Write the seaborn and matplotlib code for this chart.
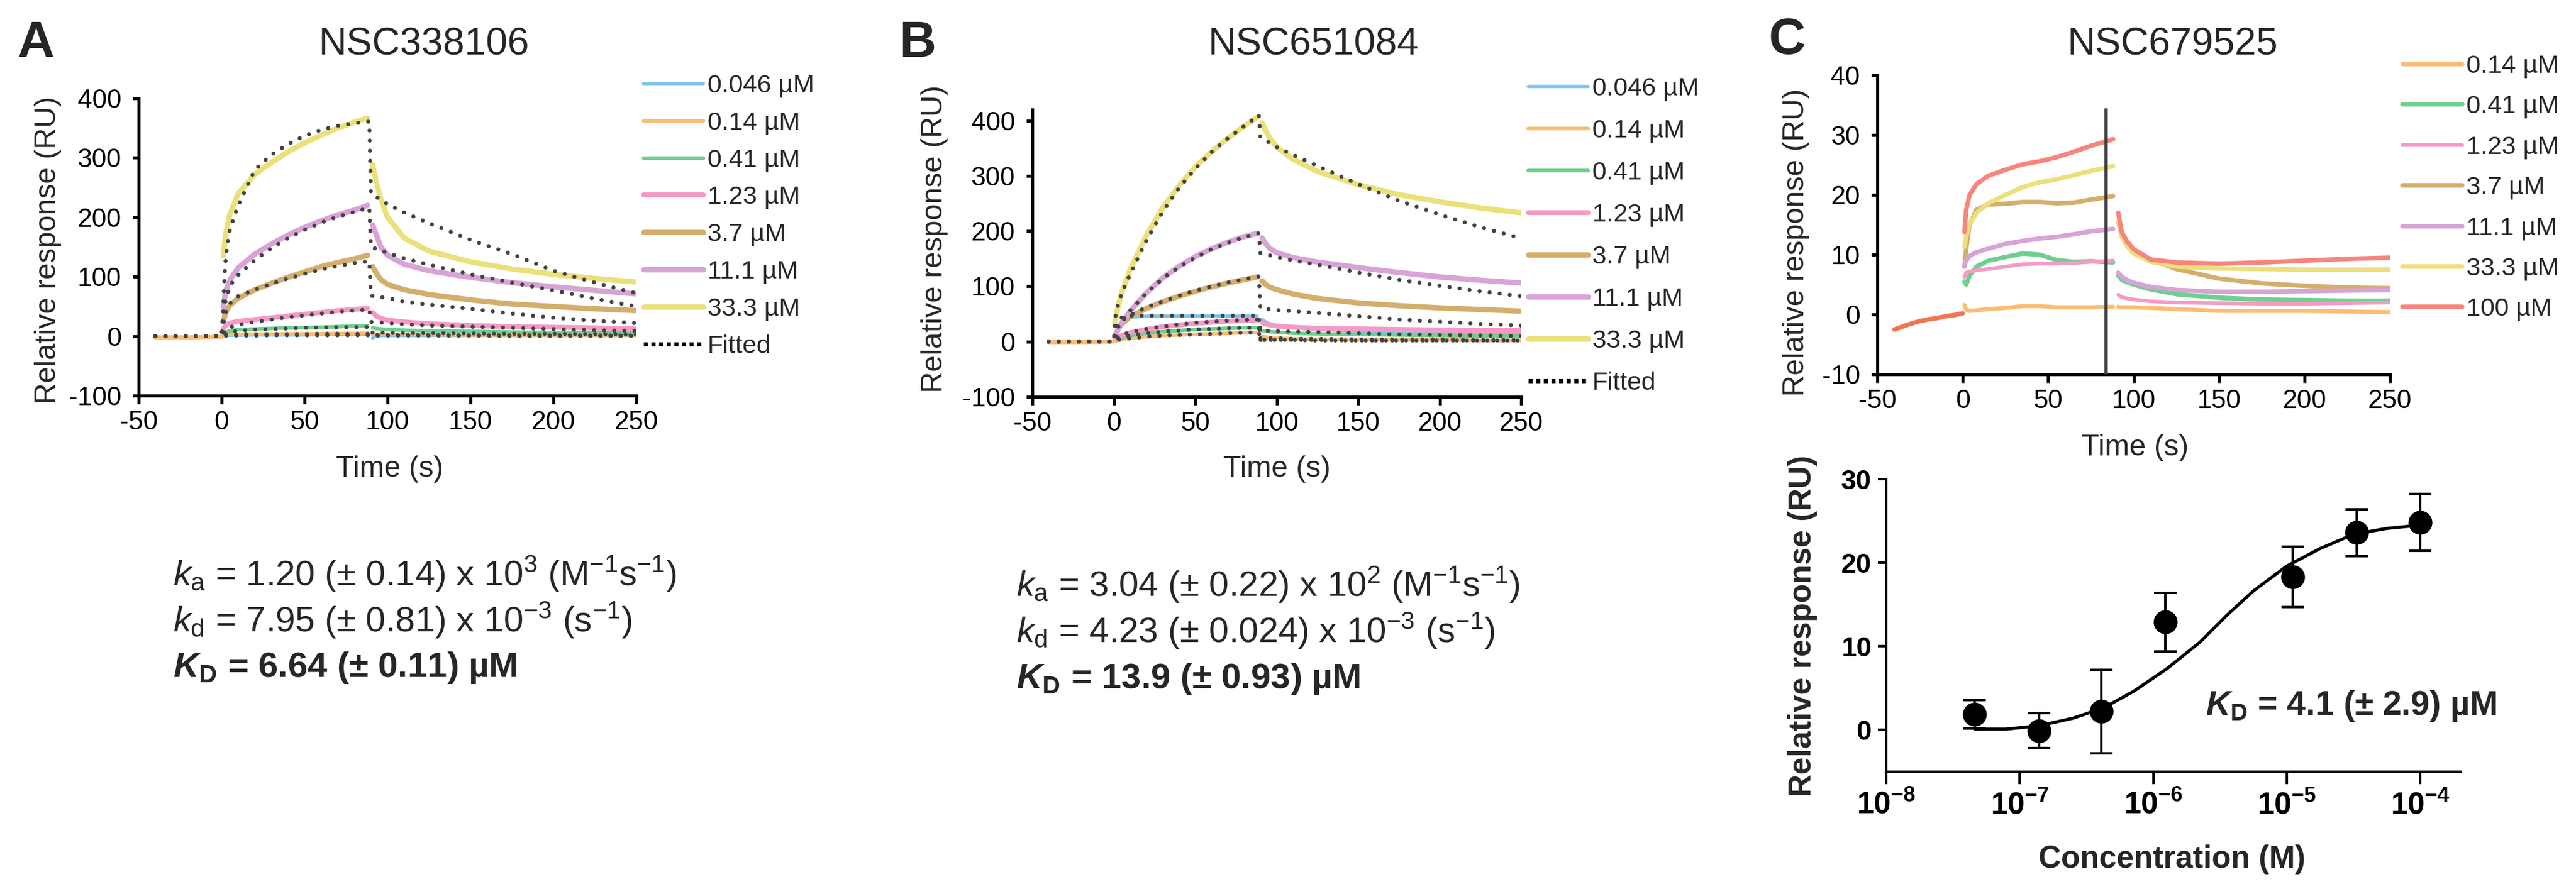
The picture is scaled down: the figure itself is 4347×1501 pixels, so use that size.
import pandas as pd
import matplotlib
matplotlib.use('Agg')
import matplotlib.pyplot as plt
from matplotlib.lines import Line2D
import seaborn as sns

# ---------------- data ----------------
conc_ab = ['0.046 µM', '0.14 µM', '0.41 µM', '1.23 µM', '3.7 µM', '11.1 µM', '33.3 µM']
conc_c = ['0.14 µM', '0.41 µM', '1.23 µM', '3.7 µM', '11.1 µM', '33.3 µM', '100 µM']

# Panel A (NSC338106) sensorgrams
a_t_base = [-40, -20, 0]
a_base = [-2, -2, -1]
a_t_on = [1, 2, 3, 5, 10, 20, 30, 40, 50, 60, 70, 80, 88]
a_on_0046 = [0.5, 1, 1, 1.5, 1.5, 2, 2, 2, 2, 2.5, 2.5, 2.5, 2.5]
a_on_014 = [1, 2, 2.5, 3, 3, 3.5, 3.5, 4, 4, 4, 4.5, 4.5, 5]
a_on_041 = [3, 5, 7, 9, 11, 12, 13, 14, 14.5, 15, 16, 17, 17]
a_on_123 = [12, 16, 19, 22, 25, 28, 31, 34, 37, 40, 43, 45, 47]
a_on_37 = [25, 35, 43, 52, 64, 78, 89, 99, 108, 117, 124, 130, 136]
a_on_111 = [50, 68, 80, 95, 115, 138, 155, 170, 183, 194, 204, 212, 220]
a_on_333 = [135, 160, 180, 205, 240, 272, 292, 310, 325, 338, 350, 360, 367]
a_t_off = [91, 93, 96, 100, 110, 125, 150, 175, 200, 225, 250]
a_off_0046 = [-3, 0, 1, 1, 1, 1, 1, 1, 1, 1, 1]
a_off_014 = [3, 3, 3, 3, 2.5, 2.5, 2, 2, 2, 2, 2]
a_off_041 = [14, 13, 12, 11, 10, 9, 8, 7, 6, 6, 5]
a_off_123 = [40, 34, 30, 27, 24, 21, 18, 16, 15, 14, 12]
a_off_37 = [117, 107, 95, 87, 78, 70, 61, 54, 50, 46, 43]
a_off_111 = [187, 172, 150, 136, 121, 110, 99, 90, 83, 77, 71]
a_off_333 = [288, 262, 230, 200, 165, 143, 125, 113, 104, 97, 91]
# Panel A fitted curves
fit_t = [-40, 0, 1, 2, 3, 5, 10, 20, 30, 40, 50, 60, 70, 80, 89, 90, 100, 110, 125, 150, 175, 200, 225, 250]
a_fit_0046 = [0, 0, 0.5, 0.5, 1, 1, 1, 1, 1.5, 1.5, 1.5, 1.5, 1.5, 1.5, 1.5, 1, 1, 1, 1, 1, 0.5, 0.5, 0.5, 0.5]
a_fit_014 = [0, 0, 1, 1.5, 2, 2.5, 3, 3, 3.5, 3.5, 3.5, 4, 4, 4, 4, 2, 2, 2, 2, 1.5, 1.5, 1.5, 1, 1]
a_fit_041 = [0, 0, 2, 4, 5, 7, 9, 11, 12, 13, 14, 14.5, 15, 15, 15.5, 6, 5.5, 5, 5, 4.5, 4, 4, 3.5, 3]
a_fit_123 = [0, 0, 5, 10, 12, 15, 19, 24, 28, 32, 35, 38, 41, 43, 45, 24, 22, 20, 18, 16, 14, 12, 10, 9]
a_fit_37 = [0, 0, 20, 35, 45, 55, 67, 78, 88, 97, 105, 112, 118, 123, 126, 68, 64, 58, 53, 46, 38, 31, 26, 22]
a_fit_111 = [0, 0, 40, 55, 65, 85, 103, 128, 148, 165, 179, 191, 201, 209, 216, 150, 140, 131, 120, 104, 90, 77, 63, 50]
a_fit_333 = [0, 0, 55, 115, 145, 180, 220, 280, 305, 323, 337, 347, 354, 358, 361, 240, 222, 208, 190, 162, 138, 110, 90, 72]

# Panel B (NSC651084) sensorgrams
b_t_base = [-40, -20, 0]
b_base = [-1, -1, 0]
b_t_on = [0.5, 2, 3, 5, 10, 20, 30, 40, 50, 60, 70, 80, 88]
b_on_0046 = [3, 15, 25, 35, 44, 46, 46, 46, 46, 46, 46, 46, 46]
b_on_014 = [1, 2, 3, 4, 6, 9, 11, 12, 13, 14, 15, 16, 17]
b_on_041 = [2, 4, 5, 7, 11, 15, 18, 20, 22, 23, 24, 25, 25]
b_on_123 = [3, 6, 8, 11, 16, 22, 27, 30, 33, 35, 37, 38, 39]
b_on_37 = [8, 18, 24, 32, 45, 60, 72, 82, 91, 99, 106, 112, 117]
b_on_111 = [8, 18, 25, 35, 55, 88, 115, 136, 154, 168, 180, 190, 196]
b_on_333 = [30, 55, 68, 90, 130, 192, 242, 282, 316, 344, 368, 390, 406]
b_t_off = [91, 93, 96, 100, 110, 125, 150, 175, 200, 225, 250]
b_off_0046 = [40, 36, 32, 29, 25, 22, 19, 17, 16, 15, 14]
b_off_014 = [9, 8, 7, 6, 5, 4, 4, 3, 3, 2, 2]
b_off_041 = [20, 19, 18, 17, 15, 14, 13, 12, 11, 10, 10]
b_off_123 = [35, 32, 30, 28, 26, 24, 23, 22, 21, 20, 20]
b_off_37 = [110, 104, 98, 94, 86, 78, 70, 65, 61, 58, 55]
b_off_111 = [188, 178, 168, 161, 152, 144, 134, 125, 117, 111, 106]
b_off_333 = [396, 383, 367, 352, 330, 308, 284, 266, 253, 242, 233]
# Panel B fitted curves
b_fit_0046 = [0, 0, 20, 30, 38, 44, 47, 47, 47, 47, 47, 47, 47, 47, 47, 3, 3, 3, 3, 2, 2, 2, 2, 2]
b_fit_014 = [0, 0, 1, 2, 3, 4, 6, 9, 11, 12, 13, 14, 15, 16, 17, 3, 3, 3, 2, 2, 2, 2, 2, 2]
b_fit_041 = [0, 0, 3, 5, 6, 8, 11, 15, 18, 20, 22, 23, 24, 25, 25, 6, 6, 5, 5, 4, 4, 4, 3, 3]
b_fit_123 = [0, 0, 5, 8, 10, 12, 17, 23, 27, 31, 34, 36, 38, 39, 40, 20, 19, 18, 17, 15, 13, 12, 11, 10]
b_fit_37 = [0, 0, 20, 28, 32, 38, 48, 62, 73, 83, 92, 100, 107, 113, 118, 60, 57, 55, 52, 46, 40, 36, 32, 29]
b_fit_111 = [0, 0, 15, 22, 28, 37, 56, 88, 114, 135, 152, 167, 179, 189, 196, 160, 153, 147, 139, 125, 112, 101, 91, 82]
b_fit_333 = [0, 0, 45, 60, 70, 88, 122, 183, 235, 278, 313, 343, 368, 390, 410, 370, 352, 338, 318, 285, 255, 230, 207, 187]

# Panel C (NSC679525) sensorgrams
c_t_base = [-40, -35, -30, -25, -20, -15, -10, -5, 0]
c_base = [-2.5, -2.0, -1.5, -1.1, -0.8, -0.6, -0.3, -0.1, 0.2]
c_t_on = [1, 2, 4, 8, 15, 25, 35, 45, 55, 65, 75, 88]
c_on_014 = [1.6, 0.8, 0.6, 0.7, 0.9, 1.1, 1.4, 1.4, 1.2, 1.2, 1.2, 1.3]
c_on_041 = [5.5, 5.0, 6.5, 8.0, 9.0, 9.6, 10.2, 10.0, 9.1, 8.8, 8.9, 8.7]
c_on_123 = [6.3, 7.0, 7.2, 7.4, 7.6, 8.0, 8.4, 8.5, 8.5, 8.6, 8.8, 9.0]
c_on_37 = [8.0, 11.0, 15.0, 17.5, 18.4, 18.5, 18.8, 18.8, 18.6, 18.7, 19.2, 19.8]
c_on_111 = [8.2, 9.0, 9.8, 10.4, 11.0, 11.8, 12.3, 12.7, 13.0, 13.4, 13.9, 14.3]
c_on_333 = [11.3, 13.0, 15.0, 17.0, 18.6, 20.0, 21.3, 22.1, 22.6, 23.3, 24.0, 24.8]
c_on_100 = [13.8, 17.5, 20.0, 21.8, 23.2, 24.2, 25.1, 25.6, 26.3, 27.2, 28.2, 29.3]
c_t_off = [91, 93, 96, 100, 110, 125, 150, 175, 200, 225, 250]
c_off_014 = [1.3, 1.2, 1.2, 1.2, 1.1, 0.9, 0.6, 0.6, 0.6, 0.5, 0.4]
c_off_041 = [6.5, 5.8, 5.4, 5.0, 4.2, 3.4, 2.8, 2.5, 2.4, 2.3, 2.3]
c_off_123 = [3.3, 2.9, 2.7, 2.5, 2.2, 2.0, 1.9, 1.8, 1.8, 1.9, 2.0]
c_off_37 = [15.5, 13.5, 12.0, 10.8, 9.2, 7.6, 6.0, 5.2, 4.8, 4.5, 4.4]
c_off_111 = [7.0, 6.3, 5.8, 5.3, 4.6, 4.1, 3.8, 3.8, 3.9, 4.0, 4.1]
c_off_333 = [15.5, 13.0, 11.5, 10.2, 8.8, 8.0, 7.7, 7.6, 7.5, 7.5, 7.5]
c_off_100 = [17.0, 13.8, 12.3, 10.9, 9.2, 8.7, 8.5, 8.7, 9.0, 9.3, 9.5]
c_inject_end = 84
c_inject_top = 34.5

# Panel C steady-state affinity
ss_conc = [4.6e-8, 1.4e-7, 4.1e-7, 1.23e-6, 1.11e-5, 3.33e-5, 1.0e-4]
ss_resp = [1.9, -0.1, 2.2, 12.9, 18.3, 23.6, 24.8]
ss_err = [1.7, 2.1, 5.0, 3.5, 3.6, 2.8, 3.4]
ss_fit_conc = [4.6e-8, 7.9e-8, 1.4e-7, 2.5e-7, 4.2e-7, 7.1e-7, 1.26e-6, 2.24e-6,
               3.55e-6, 5.6e-6, 1.0e-5, 1.78e-5, 3.16e-5, 5.6e-5, 1.0e-4]
ss_fit_resp = [0.1, 0.1, 0.5, 1.4, 2.6, 4.6, 7.3, 10.5, 13.7, 16.6, 19.6, 21.7, 23.4, 24.1, 24.5]
ss_xticks = [1e-8, 1e-7, 1e-6, 1e-5, 1e-4]
ss_xticklabels = [r'$\mathbf{10^{-8}}$', r'$\mathbf{10^{-7}}$', r'$\mathbf{10^{-6}}$',
                  r'$\mathbf{10^{-5}}$', r'$\mathbf{10^{-4}}$']

colors = {'0.046 µM': '#7cc4ec', '0.14 µM': '#fbbd74', '0.41 µM': '#6fcf8f',
          '1.23 µM': '#f59ac6', '3.7 µM': '#d3ae6d', '11.1 µM': '#d8a3d6',
          '33.3 µM': '#ebe07a', '100 µM': '#f7857c'}
widths_ab = {'0.046 µM': 4.0, '0.14 µM': 4.5, '0.41 µM': 4.5, '1.23 µM': 6.0,
             '3.7 µM': 6.5, '11.1 µM': 6.5, '33.3 µM': 6.5}
widths_c = {'0.14 µM': 5.0, '0.41 µM': 5.5, '1.23 µM': 4.5, '3.7 µM': 5.5,
            '11.1 µM': 5.5, '33.3 µM': 5.5, '100 µM': 5.5}

# ---------------- style ----------------
sns.set_style('ticks')
plt.rcParams['font.family'] = ['Liberation Sans', 'DejaVu Sans']
plt.rcParams['mathtext.fontset'] = 'custom'
plt.rcParams['mathtext.rm'] = 'Liberation Sans'
plt.rcParams['mathtext.it'] = 'Liberation Sans:italic'
plt.rcParams['mathtext.bf'] = 'Liberation Sans:bold'
plt.rcParams['mathtext.bfit'] = 'Liberation Sans:italic:bold'
plt.rcParams['axes.unicode_minus'] = False
plt.rcParams['axes.edgecolor'] = 'black'
plt.rcParams['xtick.color'] = 'black'
plt.rcParams['ytick.color'] = 'black'

W, H = 4347, 1501
fig = plt.figure(figsize=(W / 100, H / 100), dpi=100)


def px_axes(x0, y0, x1, y1):
    return fig.add_axes([x0 / W, 1 - y1 / H, (x1 - x0) / W, (y1 - y0) / H])


def trace_frame(conc, t_on, on, t_off, off):
    parts = []
    for c, v_on, v_off in zip(conc, on, off):
        parts.append(pd.DataFrame({'t': t_on, 'ru': v_on, 'conc': c, 'seg': c + ' on'}))
        parts.append(pd.DataFrame({'t': t_off, 'ru': v_off, 'conc': c, 'seg': c + ' off'}))
    return pd.concat(parts, ignore_index=True)


def fit_frame(conc, fits):
    return pd.concat([pd.DataFrame({'t': fit_t, 'ru': f, 'conc': c}) for c, f in zip(conc, fits)],
                     ignore_index=True)


def style_sensor(ax, ylim, yticks):
    ax.set_xlim(-50, 250)
    ax.set_ylim(*ylim)
    ax.set_xticks(range(-50, 251, 50))
    ax.set_yticks(yticks)
    sns.despine(ax=ax)
    for s in ['left', 'bottom']:
        ax.spines[s].set_linewidth(3.8)
    ax.tick_params(axis='x', direction='out', length=10, width=3.8, labelsize=32, pad=8)
    ax.tick_params(axis='y', direction='out', length=7, width=3.8, labelsize=32, pad=14)


fit_style = dict(color='#444444', lw=5.0, linestyle=(0, (0.01, 2.45)), dash_capstyle='round',
                 zorder=5)


def sensor_panel(ax, conc, widths, df, base_t, base, fdf):
    sns.lineplot(data=df, x='t', y='ru', hue='conc', hue_order=conc, palette=colors,
                 size='conc', size_order=conc, sizes=widths, units='seg', estimator=None,
                 sort=False, legend=False, ax=ax)
    sns.lineplot(x=base_t, y=base, color=colors['0.14 µM'], lw=5, ax=ax)
    if fdf is not None:
        sns.lineplot(data=fdf, x='t', y='ru', units='conc', estimator=None, sort=False,
                     legend=False, ax=ax, **fit_style)


def sensor_legend(conc, widths, x, y, spacing, fitted=True):
    handles = [Line2D([], [], color=colors[c], lw=widths[c]) for c in conc]
    labels = list(conc)
    if fitted:
        handles.append(Line2D([], [], color='black', lw=5, linestyle=(0, (1, 0.85))))
        labels.append('Fitted')
    fig.legend(handles, labels, loc='upper left', bbox_to_anchor=(x / W, 1 - y / H),
               bbox_transform=fig.transFigure, frameon=False, fontsize=31,
               handlelength=2.35, handletextpad=0.15, labelspacing=spacing,
               borderpad=0, borderaxespad=0)


# ---------------- panel A ----------------
axA = px_axes(234, 166, 1074, 668)
dfA = trace_frame(conc_ab, a_t_on,
                  [a_on_0046, a_on_014, a_on_041, a_on_123, a_on_37, a_on_111, a_on_333],
                  a_t_off,
                  [a_off_0046, a_off_014, a_off_041, a_off_123, a_off_37, a_off_111, a_off_333])
fA = fit_frame(conc_ab, [a_fit_0046, a_fit_014, a_fit_041, a_fit_123, a_fit_37, a_fit_111, a_fit_333])
sensor_panel(axA, conc_ab, widths_ab, dfA, a_t_base, a_base, fA)
style_sensor(axA, (-100, 400), range(-100, 401, 100))
axA.set_xlabel('Time (s)', fontsize=36, va='center')
axA.xaxis.set_label_coords(0.504, -0.247)
axA.set_ylabel('Relative response (RU)', fontsize=36, va='center')
axA.yaxis.set_label_coords(-0.182, 0.49)
axA.set_title('NSC338106', fontsize=47, x=0.573, y=1.163, va='center')
sensor_legend(conc_ab, widths_ab, 1086, 125, 0.53)

# ---------------- panel B ----------------
axB = px_axes(1742, 185, 2567, 670)
dfB = trace_frame(conc_ab, b_t_on,
                  [b_on_0046, b_on_014, b_on_041, b_on_123, b_on_37, b_on_111, b_on_333],
                  b_t_off,
                  [b_off_0046, b_off_014, b_off_041, b_off_123, b_off_37, b_off_111, b_off_333])
fB = fit_frame(conc_ab, [b_fit_0046, b_fit_014, b_fit_041, b_fit_123, b_fit_37, b_fit_111, b_fit_333])
sensor_panel(axB, conc_ab, widths_ab, dfB, b_t_base, b_base, fB)
style_sensor(axB, (-100, 420), range(-100, 401, 100))
axB.set_xlabel('Time (s)', fontsize=36, va='center')
axB.xaxis.set_label_coords(0.50, -0.252)
axB.set_ylabel('Relative response (RU)', fontsize=36, va='center')
axB.yaxis.set_label_coords(-0.200, 0.55)
axB.set_title('NSC651084', fontsize=47, x=0.575, y=1.208, va='center')
sensor_legend(conc_ab, widths_ab, 2579, 130, 0.72)

# ---------------- panel C top ----------------
axC = px_axes(3168, 127, 4033, 632)
dfC = trace_frame(conc_c, c_t_on,
                  [c_on_014, c_on_041, c_on_123, c_on_37, c_on_111, c_on_333, c_on_100],
                  c_t_off,
                  [c_off_014, c_off_041, c_off_123, c_off_37, c_off_111, c_off_333, c_off_100])
sns.lineplot(data=dfC, x='t', y='ru', hue='conc', hue_order=conc_c, palette=colors,
             size='conc', size_order=conc_c, sizes=widths_c, units='seg', estimator=None,
             sort=False, legend=False, ax=axC)
sns.lineplot(x=c_t_base, y=c_base, color='#f27452', lw=5.5, ax=axC)
axC.vlines(c_inject_end, -10, c_inject_top, color='#404040', lw=4, zorder=6)
style_sensor(axC, (-10, 40), range(-10, 41, 10))
axC.set_xlabel('Time (s)', fontsize=36, va='center')
axC.xaxis.set_label_coords(0.502, -0.246)
axC.set_ylabel('Relative response (RU)', fontsize=36, va='center')
axC.yaxis.set_label_coords(-0.158, 0.44)
axC.set_title('NSC679525', fontsize=47, x=0.576, y=1.085, va='center')
sensor_legend(conc_c, widths_c, 4054, 92, 0.66, fitted=False)

# ---------------- panel C bottom ----------------
axD = px_axes(3183, 809, 4152, 1303)
axD.set_xscale('log')
axD.errorbar(ss_conc, ss_resp, yerr=ss_err, fmt='none', ecolor='black', elinewidth=3,
             capsize=14, capthick=3, zorder=3)
sns.lineplot(x=ss_fit_conc, y=ss_fit_resp, color='black', lw=3.8, ax=axD, zorder=2)
sns.scatterplot(x=ss_conc, y=ss_resp, color='black', s=720, edgecolor='black', ax=axD, zorder=4)
axD.set_xlim(1e-8, 2e-4)
axD.set_ylim(-5, 30)
axD.set_yticks([0, 10, 20, 30])
axD.set_xticks(ss_xticks)
axD.set_xticklabels(ss_xticklabels)
axD.xaxis.set_minor_locator(matplotlib.ticker.NullLocator())
sns.despine(ax=axD)
for s in ['left', 'bottom']:
    axD.spines[s].set_linewidth(3)
axD.tick_params(axis='x', direction='out', length=15, width=3, labelsize=37, pad=8)
axD.tick_params(axis='y', direction='out', length=10, width=3, labelsize=33, pad=8)
for lab in axD.get_yticklabels():
    lab.set_fontweight('bold')
axD.set_xlabel('Concentration (M)', fontsize=38, fontweight='bold', va='center')
axD.xaxis.set_label_coords(0.498, -0.30)
axD.set_ylabel('Relative response (RU)', fontsize=38, fontweight='bold', va='center')
axD.yaxis.set_label_coords(-0.146, 0.498)
axD.text(0.556, 0.194, r'$\mathbfit{K}_{\mathbf{D}}$ = 4.1 (± 2.9) µM', transform=axD.transAxes,
         fontsize=41, fontweight='bold', va='baseline', ha='left')

# ---------------- panel letters and kinetic constants ----------------
for letter, (x, y) in zip('ABC', [(61, 74), (1548, 74), (3016, 69)]):
    fig.text(x / W, 1 - y / H, letter, fontsize=62, fontweight='bold', ha='center', va='center')

txtA = [r'$k_{\mathrm{a}}$ = 1.20 (± 0.14) x 10$^{3}$ (M$^{-1}$s$^{-1}$)',
        r'$k_{\mathrm{d}}$ = 7.95 (± 0.81) x 10$^{-3}$ (s$^{-1}$)',
        r'$\mathbfit{K}_{\mathbf{D}}$ = 6.64 (± 0.11) µM']
txtB = [r'$k_{\mathrm{a}}$ = 3.04 (± 0.22) x 10$^{2}$ (M$^{-1}$s$^{-1}$)',
        r'$k_{\mathrm{d}}$ = 4.23 (± 0.024) x 10$^{-3}$ (s$^{-1}$)',
        r'$\mathbfit{K}_{\mathbf{D}}$ = 13.9 (± 0.93) µM']
for x0, ys, lines in [(292, [989, 1067, 1143], txtA), (1715, [1007, 1085, 1162], txtB)]:
    for i, (y, s) in enumerate(zip(ys, lines)):
        fig.text(x0 / W, 1 - y / H, s, fontsize=43, ha='left', va='baseline',
                 fontweight='bold' if i == 2 else 'normal')

fig.savefig('out.png', dpi=100)
